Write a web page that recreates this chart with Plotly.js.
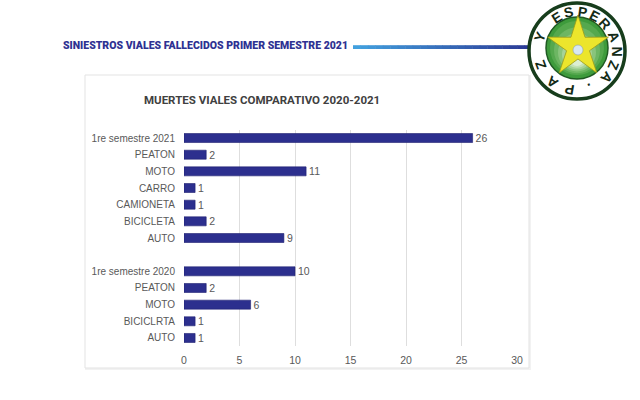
<!DOCTYPE html>
<html>
<head>
<meta charset="utf-8">
<script src="https://cdn.plot.ly/plotly-3.0.1.min.js"></script>
<style>
  html, body { margin: 0; padding: 0; background: #fff; }
  #chart { width: 640px; height: 400px; }
</style>
</head>
<body>
<div id="chart"></div>
<script>
// datos
var labels2021 = ["1re semestre 2021", "PEATON", "MOTO", "CARRO", "CAMIONETA", "BICICLETA", "AUTO"];
var values2021 = [26, 2, 11, 1, 1, 2, 9];
var labels2020 = ["1re semestre 2020", "PEATON", "MOTO", "BICICLRTA", "AUTO"];
var values2020 = [10, 2, 6, 1, 1];
var xTicks = [0, 5, 10, 15, 20, 25, 30];

var headerText = "SINIESTROS VIALES FALLECIDOS PRIMER SEMESTRE 2021";
var chartTitle = "MUERTES VIALES COMPARATIVO 2020-2021";
var logoText = ["P", "A", "Z", "Y", "E", "S", "P", "E", "R", "A", "N", "Z", "A", "."];

// posiciones: grupo 2021 arriba, fila vacia, grupo 2020 abajo
var labels = labels2021.concat([""], labels2020);
var values = values2021.concat([null], values2020);
var rows = labels.map(function (l, i) { return i; });

// pixeles -> papel (margenes en cero)
var W = 640, H = 400;
function px(x) { return x / W; }
function py(y) { return 1 - y / H; }

var shapes = [];
var annotations = [];

// caja del grafico
shapes.push({
    type: "rect", xref: "paper", yref: "paper", layer: "below",
    x0: px(86), x1: px(530), y0: py(76), y1: py(369),
    line: {color: "#f2f2f2", width: 2}, fillcolor: "rgba(0,0,0,0)"
});
shapes.push({
    type: "rect", xref: "paper", yref: "paper", layer: "below",
    x0: px(85), x1: px(529), y0: py(75), y1: py(368),
    line: {color: "#e3e3e3", width: 1}, fillcolor: "#ffffff"
});

// linea azul del encabezado (degradado por tramos)
var lineStart = 353, lineEnd = 532, steps = 24;
var c0 = [66, 160, 222], c1 = [43, 58, 150];
for (var i = 0; i < steps; i++) {
    var t = i / (steps - 1);
    var c = c0.map(function (v, k) { return Math.round(v + (c1[k] - v) * t); });
    var xa = lineStart + (lineEnd - lineStart) * i / steps;
    var xb = lineStart + (lineEnd - lineStart) * (i + 1) / steps;
    shapes.push({
        type: "rect", xref: "paper", yref: "paper", layer: "above",
        x0: px(xa), x1: px(xb + 0.5), y0: py(45.2), y1: py(49),
        line: {width: 0}, fillcolor: "rgb(" + c.join(",") + ")"
    });
}

// logo
var lx = 577, ly = 51;
function circle(cx, cy, r, fill, lineColor, lw) {
    shapes.push({
        type: "circle", xref: "paper", yref: "paper", layer: "above",
        x0: px(cx - r), x1: px(cx + r), y0: py(cy - r), y1: py(cy + r),
        fillcolor: fill, line: {color: lineColor, width: lw}
    });
}
circle(lx, ly, 48, "#ffffff", "#173d1c", 3.5);
circle(lx, ly - 3, 31, "#3e9b3c", "#1f5a22", 1.5);
var greens = ["#55a84e", "#6db663", "#89c47c", "#a6d398", "#c3e2b6", "#dcefd2"];
greens.forEach(function (g, k) {
    var r = 27 - k * 4;
    circle(lx, ly - 3 + k * 2.2, r, g, "rgba(0,0,0,0)", 0);
});
var star = "";
for (var s = 0; s < 10; s++) {
    var ang = -Math.PI / 2 + s * Math.PI / 5;
    var rr = (s % 2 === 0) ? 32 : 12;
    var sx = lx + 1 + rr * Math.cos(ang), sy = ly - 4 + rr * Math.sin(ang);
    star += (s === 0 ? "M" : "L") + px(sx).toFixed(4) + "," + py(sy).toFixed(4);
}
shapes.push({
    type: "path", xref: "paper", yref: "paper", layer: "above", path: star + "Z",
    fillcolor: "#ece52c", line: {color: "#9a9a1a", width: 0.8}
});
circle(lx + 1, ly - 1, 5, "#d8e8f0", "#8aa0b0", 0.6);

// letras alrededor del sello (angulo en grados, y hacia abajo)
var letterAngles = [100, 128, 160, 202, 238, 258, 278, 297, 316, 338, 360, 382, 402, 70];
logoText.forEach(function (ch, k) {
    var a = letterAngles[k] * Math.PI / 180;
    annotations.push({
        xref: "paper", yref: "paper", showarrow: false, text: ch,
        xanchor: "center", yanchor: "middle",
        x: px(lx + 39.5 * Math.cos(a)), y: py(ly + 39.5 * Math.sin(a)),
        textangle: letterAngles[k] + 90,
        font: {family: "Liberation Sans, Arial, sans-serif", size: 14, color: "#142b16", weight: "bold"}
    });
});

// textos
annotations.push({
    xref: "paper", yref: "paper", showarrow: false, text: headerText,
    x: px(61), y: py(45.5), xanchor: "left", yanchor: "middle",
    font: {family: "Roboto, sans-serif", size: 10.5, color: "#2e3192", weight: 900}
});
annotations.push({
    xref: "paper", yref: "paper", showarrow: false, text: chartTitle,
    x: px(142), y: py(100), xanchor: "left", yanchor: "middle",
    font: {family: "Roboto, sans-serif", size: 11.5, color: "#404040", weight: "bold"}
});

var trace = {
    type: "bar",
    orientation: "h",
    x: values,
    y: rows,
    width: 0.54,
    marker: {color: "#2c2f8e", line: {color: "#1e2070", width: 0.6}},
    text: values.map(function (v) { return v === null ? "" : String(v); }),
    textposition: "outside",
    constraintext: "none",
    cliponaxis: false,
    textfont: {family: "Liberation Sans, Arial, sans-serif", size: 10.5, color: "#595959"},
    hoverinfo: "skip"
};

var layout = {
    width: W,
    height: H,
    margin: {l: 0, r: 0, t: 0, b: 0},
    paper_bgcolor: "#ffffff",
    plot_bgcolor: "rgba(0,0,0,0)",
    showlegend: false,
    xaxis: {
        domain: [px(184), px(517)],
        range: [0, 30],
        tickvals: xTicks,
        showgrid: true,
        gridcolor: "#dedede",
        gridwidth: 1,
        zeroline: false,
        showline: false,
        ticks: "",
        ticklabelstandoff: 6,
        tickfont: {family: "Liberation Sans, Arial, sans-serif", size: 10.5, color: "#595959"},
        fixedrange: true
    },
    yaxis: {
        domain: [py(346.3), py(129.7)],
        range: [labels.length - 0.5, -0.5],
        tickvals: rows,
        ticktext: labels,
        showgrid: false,
        zeroline: false,
        showline: false,
        ticks: "",
        ticklabelstandoff: 8,
        tickfont: {family: "Liberation Sans, Arial, sans-serif", size: 10, color: "#595959"},
        fixedrange: true
    },
    shapes: shapes,
    annotations: annotations
};

Plotly.newPlot("chart", [trace], layout, {displayModeBar: false, staticPlot: true});
</script>
</body>
</html>
